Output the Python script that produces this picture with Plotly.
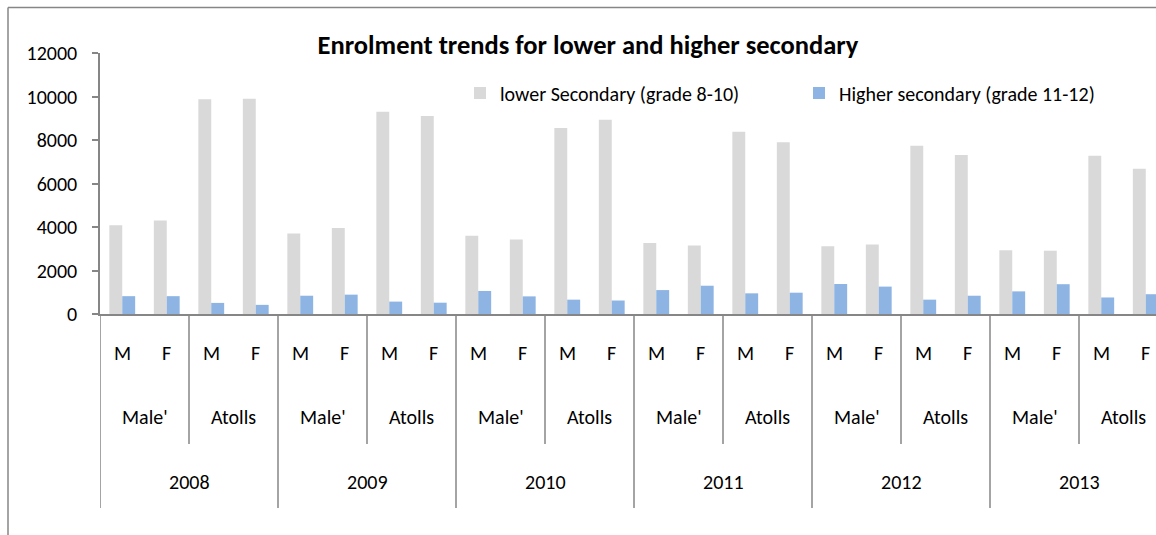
import plotly.graph_objects as go

# Data
years = ["2008", "2009", "2010", "2011", "2012", "2013"]
regions = ["Male'", "Atolls"]
sexes = ["M", "F"]

lower_secondary = [4080, 4300, 9870, 9900,
                   3700, 3950, 9300, 9100,
                   3600, 3430, 8550, 8930,
                   3270, 3150, 8380, 7900,
                   3120, 3200, 7740, 7310,
                   2930, 2910, 7280, 6680]
higher_secondary = [820, 820, 510, 420,
                    840, 890, 570, 520,
                    1060, 810, 660, 620,
                    1100, 1300, 950, 980,
                    1380, 1260, 660, 840,
                    1040, 1370, 760, 910]

FONT = "Carlito, Calibri, Lato, sans-serif"
AXIS_COLOR = "#868686"
W, H = 1156, 535

# plot area in pixels
left, right, top, bottom = 100, 1156, 53, 314
plot_w = right - left
plot_h = bottom - top
cat_w = 44.5  # pixels per category in the original

n = len(lower_secondary)
x = list(range(n))

fig = go.Figure()
fig.add_trace(go.Bar(x=x, y=lower_secondary, name="lower Secondary (grade 8-10)",
                     marker=dict(color="#D9D9D9", line=dict(width=0)), legend="legend"))
fig.add_trace(go.Bar(x=x, y=higher_secondary, name="Higher secondary (grade 11-12)",
                     marker=dict(color="#8DB4E2", line=dict(width=0)), legend="legend2"))


def px_x(p):
    return (p - left) / plot_w


def px_y(p):
    return (bottom - p) / plot_h


shapes = []
annotations = []
per_region = len(sexes)
per_year = len(regions) * per_region
label_font = dict(size=20, color="black", family=FONT)

# level 1: M / F
for i in x:
    annotations.append(dict(x=i, y=px_y(353), xref="x", yref="paper", yanchor="middle",
                            text=sexes[i % per_region], showarrow=False, font=label_font))

# level 2: regions, level 3: years
for yi, yr in enumerate(years):
    start = yi * per_year
    for ri, reg in enumerate(regions):
        s = start + ri * per_region
        annotations.append(dict(x=s + (per_region - 1) / 2, y=px_y(417), xref="x", yref="paper",
                                yanchor="middle", text=reg, showarrow=False, font=label_font))
        if ri > 0:
            shapes.append(dict(type="line", xref="x", yref="paper", x0=s - 0.5, x1=s - 0.5,
                               y0=0, y1=px_y(444), line=dict(color=AXIS_COLOR, width=1.5)))
    annotations.append(dict(x=start + (per_year - 1) / 2, y=px_y(482), xref="x", yref="paper",
                            yanchor="middle", text=yr, showarrow=False, font=label_font))
    shapes.append(dict(type="line", xref="x", yref="paper", x0=start - 0.5, x1=start - 0.5,
                       y0=0, y1=px_y(508), line=dict(color=AXIS_COLOR, width=1.5)))

# outer chart border (left and top edges)
bx = px_x(8)
by = px_y(7.5)
shapes.append(dict(type="line", xref="paper", yref="paper", x0=bx, x1=bx, y0=px_y(560), y1=by,
                   line=dict(color=AXIS_COLOR, width=1.5)))
shapes.append(dict(type="line", xref="paper", yref="paper", x0=bx, x1=1.1, y0=by, y1=by,
                   line=dict(color=AXIS_COLOR, width=1.5)))

legend_style = dict(orientation="h", xanchor="left", y=px_y(93), yanchor="middle",
                    font=dict(size=20, family=FONT), bgcolor="rgba(0,0,0,0)",
                    itemclick=False, itemdoubleclick=False, visible=True)

fig.update_layout(
    width=W, height=H,
    margin=dict(l=left, r=W - right, t=top, b=H - bottom),
    paper_bgcolor="white", plot_bgcolor="white",
    barmode="group", bargap=0.42, bargroupgap=0,
    showlegend=True,
    font=dict(family=FONT, color="black", size=20),
    title=dict(text="<b>Enrolment trends for lower and higher secondary</b>",
               x=588 / W, xanchor="center", xref="container",
               y=1 - 45 / H, yanchor="middle", font=dict(size=26.5, family=FONT)),
    legend=dict(x=px_x(460), **legend_style),
    legend2=dict(x=px_x(799), **legend_style),
    xaxis=dict(range=[-0.5, (right - left) / cat_w - 0.5], showticklabels=False, ticks="",
               showgrid=False, zeroline=False, showline=True, linecolor=AXIS_COLOR,
               linewidth=1.5, automargin=False),
    yaxis=dict(range=[0, 12000], dtick=2000, tickformat="d", showgrid=False, zeroline=False,
               showline=True, linecolor=AXIS_COLOR, linewidth=1.5,
               ticks="outside", ticklen=6, tickcolor=AXIS_COLOR, tickwidth=1.5,
               tickfont=dict(size=20, family=FONT), ticklabelstandoff=11, automargin=False),
    shapes=shapes,
    annotations=annotations,
)

# drop the default page margin so the figure sits at the window's top-left corner
fig.write_html("out.html", config={"displayModeBar": False},
               post_script="document.body.style.margin='0';document.body.style.overflow='hidden';")
